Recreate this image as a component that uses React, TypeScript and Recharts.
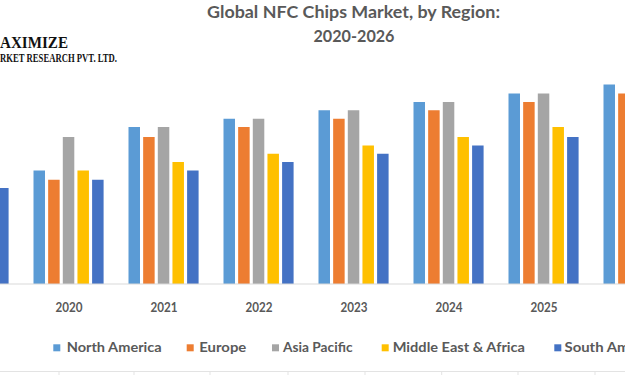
import React from 'react';
import { BarChart, Bar, XAxis, YAxis, Legend } from 'recharts';

const years = ['2019', '2020', '2021', '2022', '2023', '2024', '2025', '2026'];
const northAmerica = [12.5, 13.6, 18.8, 19.8, 20.8, 21.8, 22.8, 23.9];
const europe = [11.5, 12.5, 17.6, 18.8, 19.8, 20.8, 21.8, 22.8];
const asiaPacific = [16.5, 17.6, 18.8, 19.8, 20.8, 21.8, 22.8, 23.9];
const middleEastAfrica = [12.5, 13.6, 14.6, 15.6, 16.6, 17.6, 18.8, 19.8];
const southAmerica = [11.5, 12.5, 13.6, 14.6, 15.6, 16.6, 17.6, 18.8];

const seriesNames = ['North America', 'Europe', 'Asia Pacific', 'Middle East & Africa', 'South America'];
const seriesKeys = ['na', 'eu', 'ap', 'mea', 'sa'];
const seriesColors = ['#5B9BD5', '#ED7D31', '#A5A5A5', '#FFC000', '#4472C4'];

const data = years.map((y, i) => ({
  year: y,
  na: northAmerica[i],
  eu: europe[i],
  ap: asiaPacific[i],
  mea: middleEastAfrica[i],
  sa: southAmerica[i],
}));

const TEXT = '#595959';
const FONT = "Lato, 'Open Sans', sans-serif";

// legend item layout: square x, text x and text width
const legendX = [53.3, 186.7, 272, 381.7, 554.3];
const legendTX = [66.7, 199.3, 283, 392.7, 564.5];
const legendW = [95, 47, 69.5, 132.3, 97];

const LegendContent = () => (
  <svg width={625} height={20} style={{ display: 'block', overflow: 'visible' }}>
    {seriesNames.map((n, i) => (
      <g key={n}>
        <rect x={legendX[i]} y={6.3} width={7} height={7} fill={seriesColors[i]} />
        <text
          x={legendTX[i]}
          y={14}
          fontFamily={FONT}
          fontWeight={700}
          fontSize={13}
          fill={TEXT}
          textLength={legendW[i]}
          lengthAdjust="spacingAndGlyphs"
        >
          {n}
        </text>
      </g>
    ))}
  </svg>
);

const Tick = (props: any) => {
  const { x, y, payload } = props;
  if (x + 14 < 0) return null;
  return (
    <text
      x={x}
      y={y + 27.7}
      textAnchor="middle"
      fontFamily={FONT}
      fontWeight={700}
      fontSize={12.5}
      fill={TEXT}
      textLength={27}
      lengthAdjust="spacingAndGlyphs"
    >
      {payload.value}
    </text>
  );
};

const tableCols = [59, 134, 210, 288, 365, 441.7, 518, 595];

export default function App() {
  return (
    <div
      style={{
        position: 'fixed',
        left: 0,
        top: 0,
        width: 625,
        height: 375,
        overflow: 'hidden',
        background: '#fff',
      }}
    >
      <BarChart
        width={625}
        height={375}
        data={data}
        margin={{ top: 33.5, right: -61.5, bottom: 0, left: -73.5 }}
        barSize={11.5}
        barGap={3.15}
      >
        <XAxis
          dataKey="year"
          height={91}
          axisLine={{ stroke: '#D9D9D9', strokeWidth: 1 }}
          tickLine={false}
          tickSize={0}
          tickMargin={0}
          tick={<Tick />}
          interval={0}
        />
        <YAxis hide domain={[0, 30]} />
        <Legend
          layout="horizontal"
          verticalAlign="middle"
          align="center"
          content={<LegendContent />}
          wrapperStyle={{ top: 338, left: 0, width: 625, height: 20 }}
        />
        {seriesKeys.map((k, i) => (
          <Bar key={k} dataKey={k} name={seriesNames[i]} fill={seriesColors[i]} isAnimationActive={false} />
        ))}
      </BarChart>
      <svg
        width={625}
        height={375}
        style={{ position: 'absolute', left: 0, top: 0, pointerEvents: 'none' }}
      >
        <text
          x={353.5}
          y={18.3}
          textAnchor="middle"
          fontFamily={FONT}
          fontWeight={700}
          fontSize={17}
          fill={TEXT}
          textLength={293}
          lengthAdjust="spacingAndGlyphs"
        >
          Global NFC Chips Market, by Region:
        </text>
        <text
          x={354}
          y={41.7}
          textAnchor="middle"
          fontFamily={FONT}
          fontWeight={700}
          fontSize={17}
          fill={TEXT}
          textLength={81}
          lengthAdjust="spacingAndGlyphs"
        >
          2020-2026
        </text>
        <text
          x={0}
          y={48.3}
          fontFamily="'Liberation Serif', 'DejaVu Serif', serif"
          fontWeight={700}
          fontSize={17.5}
          fill="#111"
          textLength={68}
          lengthAdjust="spacingAndGlyphs"
        >
          AXIMIZE
        </text>
        <text
          x={0}
          y={61.7}
          fontFamily="'Liberation Serif', 'DejaVu Serif', serif"
          fontWeight={700}
          fontSize={11.5}
          fill="#111"
          textLength={117}
          lengthAdjust="spacingAndGlyphs"
        >
          RKET RESEARCH PVT. LTD.
        </text>
        <line x1={0} x2={625} y1={371.5} y2={371.5} stroke="#E3E3E3" strokeWidth={1} />
        {tableCols.map((c) => (
          <line key={c} x1={c} x2={c} y1={371.5} y2={375} stroke="#E3E3E3" strokeWidth={1} />
        ))}
      </svg>
    </div>
  );
}
